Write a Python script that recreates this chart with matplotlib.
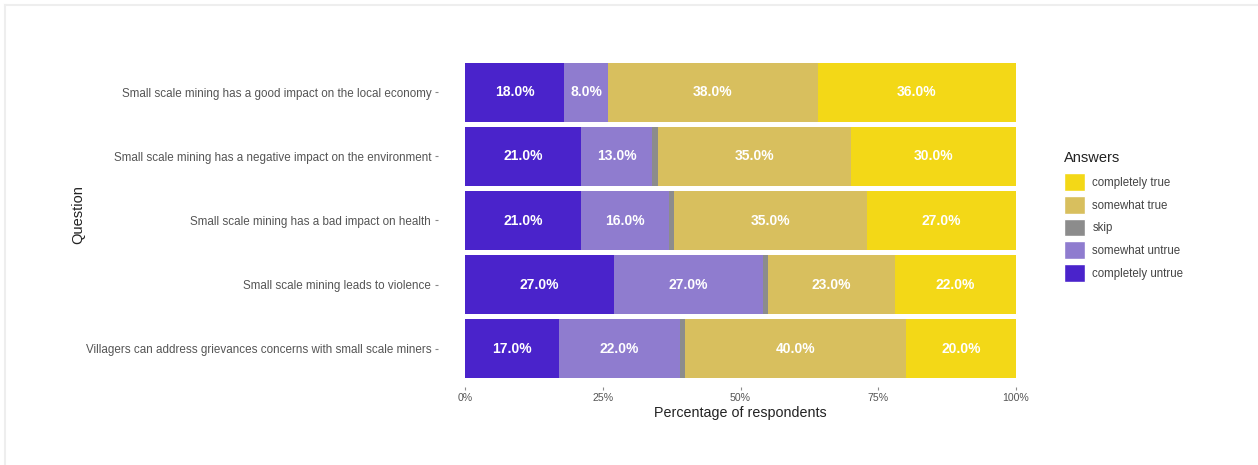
import matplotlib.pyplot as plt
import numpy as np
from matplotlib.patches import Patch
from matplotlib.lines import Line2D

plt.rcParams['font.family'] = ['Liberation Sans', 'DejaVu Sans']

# Data
questions = [
    "Small scale mining has a good impact on the local economy",
    "Small scale mining has a negative impact on the environment",
    "Small scale mining has a bad impact on health",
    "Small scale mining leads to violence",
    "Villagers can address grievances concerns with small scale miners",
]
answers = ["completely untrue", "somewhat untrue", "skip", "somewhat true", "completely true"]
completely_untrue = [18, 21, 21, 27, 17]
somewhat_untrue = [8, 13, 16, 27, 22]
skip = [0, 1, 1, 1, 1]
somewhat_true = [38, 35, 35, 23, 40]
completely_true = [36, 30, 27, 22, 20]
colors = ["#4a23cb", "#8f7ccf", "#8c8c8c", "#d8bf5e", "#f3d817"]
x_ticks = [0, 25, 50, 75, 100]
x_tick_labels = ["0%", "25%", "50%", "75%", "100%"]

series = [completely_untrue, somewhat_untrue, skip, somewhat_true, completely_true]

fig = plt.figure(figsize=(12.58, 4.65), dpi=100)
# panel incl. 5% expansion on x like ggplot
ax = fig.add_axes([437.5 / 1258, 1 - 387 / 465, 606 / 1258, 333 / 465])

y = np.arange(len(questions))
left = np.zeros(len(questions))
for name, vals, col in zip(answers, series, colors):
    vals = np.array(vals, dtype=float)
    ax.barh(y, vals, left=left, height=0.92, color=col, label=name, linewidth=0)
    if name != "skip":
        for yi, l, v in zip(y, left, vals):
            if v > 0:
                ax.text(l + v / 2, yi, "{:.1f}%".format(v), ha="center", va="center",
                        color="white", fontsize=10, fontweight="bold")
    left += vals

ax.set_xlim(-5, 105)
ax.set_ylim(len(questions) - 0.4, -0.6)
ax.set_yticks(y)
ax.set_yticklabels(questions)
ax.set_xticks(x_ticks)
ax.set_xticklabels(x_tick_labels)
ax.tick_params(axis="both", colors="#8a8a8a", labelcolor="#555555", length=2.5, width=0.8)
ax.tick_params(axis="y", labelsize=8.4, pad=2)
ax.tick_params(axis="x", labelsize=7.6, pad=2)
for s in ax.spines.values():
    s.set_visible(False)

ax.set_xlabel("Percentage of respondents", fontsize=10.3, color="#222222", labelpad=2)
fig.text(78 / 1258, 1 - 215 / 465, "Question", rotation=90, ha="center", va="center",
         fontsize=10.5, color="#222222")

handles = [Patch(facecolor=c, edgecolor="white", linewidth=1.0, label=a)
           for a, c in zip(answers, colors)][::-1]
leg = fig.legend(handles=handles, title="Answers", loc="upper left",
                 bbox_to_anchor=(1064 / 1258, 1 - 151 / 465), frameon=False,
                 fontsize=8.3, title_fontsize=10.5, handlelength=1.85, handleheight=2.0,
                 labelspacing=0.42, handletextpad=0.6, borderaxespad=0, borderpad=0)
leg._legend_box.align = "left"
leg._legend_box.sep = 6
for t in leg.get_texts():
    t.set_color("#444444")
leg.get_title().set_color("#222222")

# light frame on top and left edges
fig.add_artist(Line2D([5 / 1258, 1], [1 - 5 / 465, 1 - 5 / 465], transform=fig.transFigure,
                      color="#eeeeee", linewidth=1.5))
fig.add_artist(Line2D([5 / 1258, 5 / 1258], [0, 1 - 5 / 465], transform=fig.transFigure,
                      color="#eeeeee", linewidth=1.5))

fig.savefig("out.png", dpi=100)
